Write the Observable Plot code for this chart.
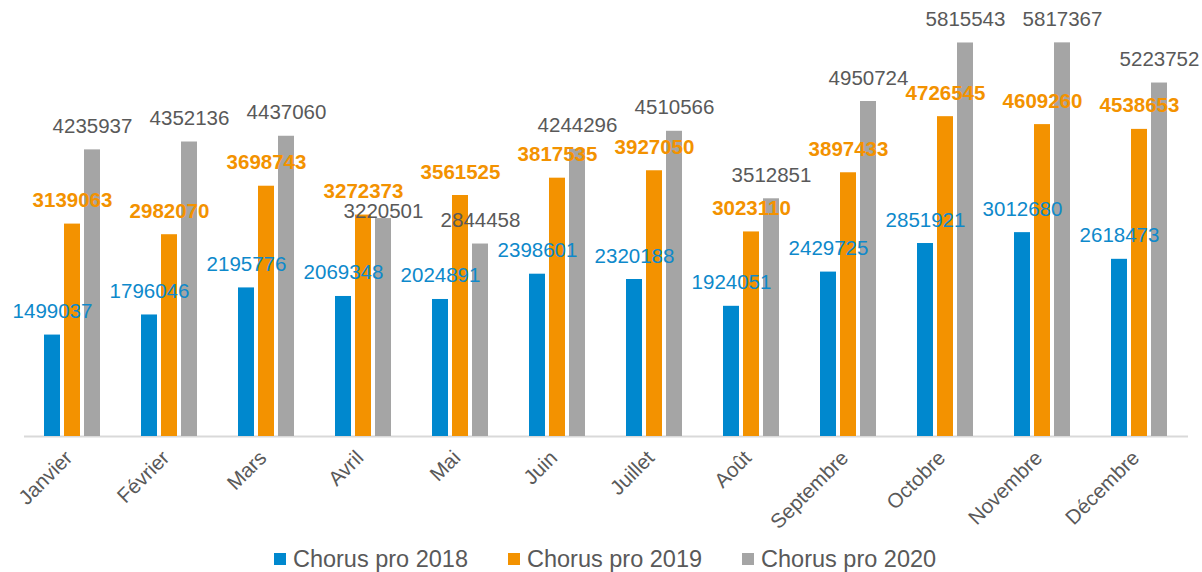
<!DOCTYPE html>
<html>
<head>
<meta charset="utf-8">
<script src="https://cdn.jsdelivr.net/npm/d3@7"></script>
<script src="https://cdn.jsdelivr.net/npm/@observablehq/plot@0.6"></script>
<style>
  html, body { margin: 0; padding: 0; background: #fff; }
  body { width: 1202px; height: 572px; overflow: hidden; font-family: "Liberation Sans", Arial, sans-serif; }
  #legend { display: flex; justify-content: center; align-items: center; gap: 40px; height: 46px; color: #595959; font-size: 23.5px; padding-left: 8px; }
  #legend .item { display: flex; align-items: center; gap: 7px; }
  #legend .sw { width: 12px; height: 12px; display: inline-block; }
</style>
</head>
<body>
<div id="chart"></div>
<div id="legend"></div>
<script>
const months = ["Janvier", "Février", "Mars", "Avril", "Mai", "Juin", "Juillet", "Août", "Septembre", "Octobre", "Novembre", "Décembre"];
const seriesNames = ["Chorus pro 2018", "Chorus pro 2019", "Chorus pro 2020"];
const values2018 = [1499037, 1796046, 2195776, 2069348, 2024891, 2398601, 2320188, 1924051, 2429725, 2851921, 3012680, 2618473];
const values2019 = [3139063, 2982070, 3698743, 3272373, 3561525, 3817535, 3927050, 3023110, 3897433, 4726545, 4609260, 4538653];
const values2020 = [4235937, 4352136, 4437060, 3220501, 2844458, 4244296, 4510566, 3512851, 4950724, 5815543, 5817367, 5223752];
const colors = ["#0088CE", "#F39200", "#A5A5A5"];
const labelColors = ["#0E89CB", "#F39200", "#595959"];
// label that was moved down in the original chart (Avril 2020)
const movedLabel = { month: "Avril", series: "Chorus pro 2020" };

const allValues = [values2018, values2019, values2020];
const data = [];
seriesNames.forEach((s, i) => {
  months.forEach((m, j) => data.push({month: m, series: s, value: allValues[i][j]}));
});
const isMoved = d => d.month === movedLabel.month && d.series === movedLabel.series;

const labelMark = (i, weight, rows, dy) => Plot.text(rows.filter(d => d.series === seriesNames[i]), {
  fx: "month", x: "series", y: "value",
  text: d => String(d.value),
  lineAnchor: "bottom", dy,
  fill: labelColors[i], fontSize: 20.5, fontWeight: weight
});

const chart = Plot.plot({
  width: 1202,
  height: 536,
  marginLeft: 24,
  marginRight: 14,
  marginTop: 30,
  marginBottom: 100,
  style: { fontFamily: "'Liberation Sans', Arial, sans-serif", fontSize: "20px", color: "#595959", background: "#fff", overflow: "visible" },
  fx: { domain: months, paddingInner: 0.39, paddingOuter: 0.195, label: null, axis: null },
  x: { domain: seriesNames, paddingInner: 0.19, paddingOuter: 0, axis: null },
  y: { domain: [0, 6000000], axis: null },
  color: { domain: seriesNames, range: colors },
  marks: [
    Plot.ruleY([0], { stroke: "#D9D9D9", strokeWidth: 2, insetLeft: -19, insetRight: -19 }),
    Plot.barY(data, { fx: "month", x: "series", y: "value", fill: "series" }),
    labelMark(0, "normal", data, -17),
    labelMark(1, "bold", data, -17),
    labelMark(2, "normal", data.filter(d => !isMoved(d)), -17),
    labelMark(2, "normal", data.filter(isMoved), -1),
    Plot.axisFx({ anchor: "bottom", label: null, tickRotate: -45, tickSize: 0, tickPadding: 18, dx: -4, fontSize: 20.5, fill: "#595959" })
  ]
});
document.getElementById("chart").appendChild(chart);

const legend = document.getElementById("legend");
seriesNames.forEach((s, i) => {
  const item = document.createElement("div");
  item.className = "item";
  const sw = document.createElement("span");
  sw.className = "sw";
  sw.style.background = colors[i];
  const t = document.createElement("span");
  t.textContent = s;
  item.appendChild(sw);
  item.appendChild(t);
  legend.appendChild(item);
});
</script>
</body>
</html>
